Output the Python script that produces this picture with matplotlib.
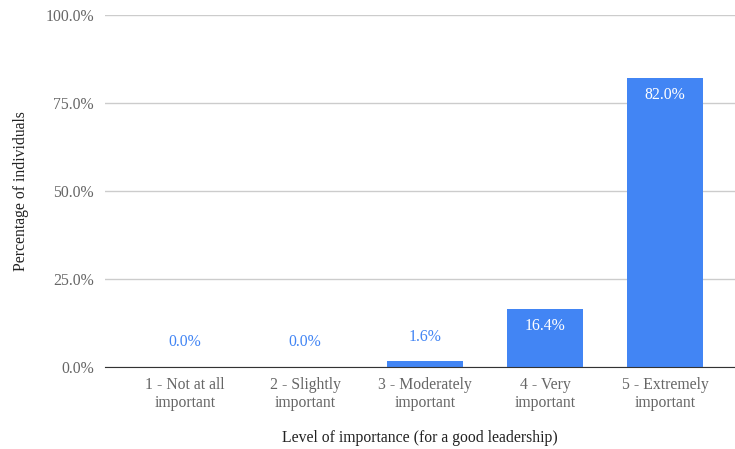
import numpy as np
import matplotlib.pyplot as plt

# survey answers: share of respondents per importance level
levels = ["1 - Not at all\nimportant", "2 - Slightly\nimportant",
          "3 - Moderately\nimportant", "4 - Very\nimportant",
          "5 - Extremely\nimportant"]
shares = [0.0, 0.0, 1.6, 16.4, 82.0]
ticks = [0, 25, 50, 75, 100]

plt.rcParams['font.family'] = ['Liberation Serif', 'DejaVu Serif']

blue = "#4285f4"
fig = plt.figure(figsize=(7.35, 4.49), dpi=100)
ax = fig.add_axes([105/735, 82/449, 630/735, 352/449])

x = np.arange(len(levels))
ax.bar(x, shares, width=0.64, color=blue, zorder=3)

for xi, v in zip(x, shares):
    txt = "%.1f%%" % v
    if v > 10:
        ax.annotate(txt, (xi, v), xytext=(0, -6), textcoords="offset points",
                    ha="center", va="top", color="white", fontsize=11.3)
    else:
        ax.annotate(txt, (xi, v), xytext=(0, 12), textcoords="offset points",
                    ha="center", va="bottom", color=blue, fontsize=11.3)

ax.set_xlim(-0.667, 4.583)
ax.set_ylim(0, 100)
ax.set_yticks(ticks)
ax.set_yticklabels(["%.1f%%" % t for t in ticks])
ax.set_xticks(x)
ax.set_xticklabels(levels, linespacing=1.15)
ax.tick_params(axis="both", length=0, colors="#666666", labelsize=11.3)
ax.tick_params(axis="y", pad=8)
ax.tick_params(axis="x", pad=7)

ax.grid(axis="y", color="#cccccc", linewidth=1, zorder=0)
for s in ["top", "right", "left"]:
    ax.spines[s].set_visible(False)
ax.spines["bottom"].set_color("#333333")
ax.spines["bottom"].set_zorder(4)

ax.set_xlabel("Level of importance (for a good leadership)", fontsize=11.3,
              color="#222222", labelpad=14)
ax.set_ylabel("Percentage of individuals", fontsize=11.3, color="#222222",
              labelpad=12)

fig.savefig("out.png", dpi=100)
